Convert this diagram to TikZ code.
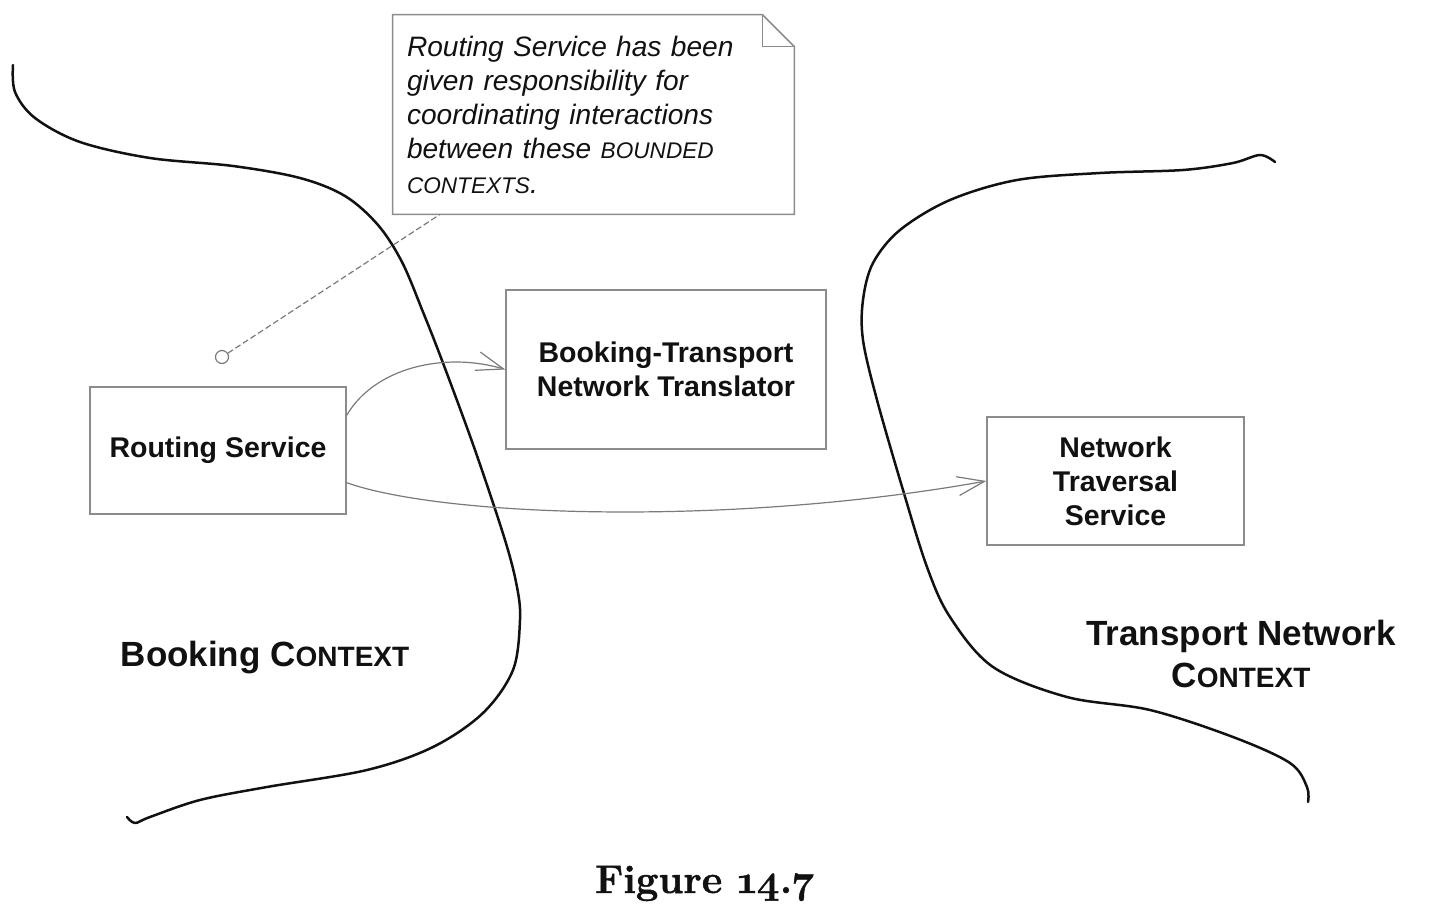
\documentclass[tikz,border=0pt]{standalone}
\usepackage{fontspec}
\newfontfamily\arial{Liberation Sans}
\newfontfamily\capfont[Numbers=OldStyle,BoldFeatures={FakeBold=1.2}]{Latin Modern Roman}
\usetikzlibrary{arrows.meta}
\definecolor{boxgray}{HTML}{8C8C8C}
\definecolor{linegray}{HTML}{7A7A7A}
\definecolor{ink}{HTML}{111111}
\newcommand\smcnote[1]{{\fontsize{11.3}{17.1}\selectfont #1}}
\newcommand\smcctx[1]{{\fontsize{14}{21}\selectfont #1}}
\begin{document}
\begin{tikzpicture}[x=0.5pt,y=-0.5pt,
  compbox/.style={draw=boxgray, line width=0.75pt, inner sep=0pt, align=center,
    font=\arial\bfseries\fontsize{14.25}{17}\selectfont, text=ink},
  conn/.style={draw=linegray, line width=0.6pt, -{Straight Barb[length=13.5pt,width=9.5pt]}},
  ctx/.style={line width=1.25pt, line cap=round, line join=round, draw=ink},
  ctxlabel/.style={font=\arial\bfseries\fontsize{17.5}{21}\selectfont, text=ink, inner sep=0pt, align=center},
  notebox/.style={draw=boxgray, line width=0.75pt, line join=miter},
  notelink/.style={draw=linegray, line width=0.6pt, dash pattern=on 3pt off 1.5pt}]
\path[use as bounding box] (0,0) rectangle (1432,910);

% context boundaries
\draw[ctx] plot[smooth, tension=0.55] coordinates {(13,65) (15,92) (35,118) (80,142) (150,158) (233,166) (300,178) (345,196) (378,225) (402,262) (423,312) (443,363) (475,450) (505,540) (517,587) (520,620) (513,670) (483,713) (433,747) (367,770) (267,787) (200,800) (150,817) (135,823) (127,817)};
\draw[ctx] plot[smooth, tension=0.55] coordinates {(1275,162) (1260,155) (1233,163) (1183,170) (1100,173) (1017,180) (950,200) (900,230) (873,263) (863,300) (863,340) (877,400) (903,490) (927,567) (950,617) (993,667) (1067,697) (1150,710) (1233,737) (1290,763) (1307,787) (1308,802)};

% note
\node[inner xsep=7pt, inner ysep=0pt, minimum width=200.5pt, minimum height=99.5pt,
      text width=186.5pt, align=left, font=\arial\itshape\fontsize{14.05}{17.125}\selectfont, text=ink]
  (note) at (593.5,114.5) {Routing Service has been\\ given responsibility for\\ coordinating interactions\\ between these \smcnote{BOUNDED}\\ \smcnote{CONTEXTS}.};
\coordinate (foldA) at ([xshift=-16pt]note.north east);
\coordinate (foldB) at ([yshift=-16pt]note.north east);
\draw[notebox] (note.south west) -- (note.south east) -- (foldB) -- (foldA) -- (note.north west) -- cycle;
\draw[notebox] (foldA) |- (foldB);

% components
\node[compbox, minimum width=128pt, minimum height=63.5pt] (rs) at (218,450.5) {Routing Service};
\node[compbox, minimum width=160pt, minimum height=79.5pt] (bt) at (666,369.5) {Booking-Transport\\Network Translator};
\node[compbox, minimum width=128.5pt, minimum height=64pt] (nts) at (1115.5,481) {Network\\Traversal\\Service};

% note anchor circle and link
\node[circle, draw=linegray, line width=0.6pt, minimum size=6.5pt, inner sep=0pt] (dot) at (222,357) {};
\coordinate (notefoot) at ([xshift=-76.75pt]note.south);
\draw[notelink] (dot) -- (notefoot);

% connectors
\draw[conn] ([yshift=-14.5pt]rs.north east) .. controls +(28,-48) and +(-60,-18) .. (bt.west);
\draw[conn] ([yshift=16pt]rs.south east) .. controls +(100,35) and +(-250,45) .. (nts.west);

% context labels
\node[ctxlabel, anchor=base] (bc) at (265,666) {Booking C\smcctx{ONTEXT}};
\node[ctxlabel, anchor=base] (tn1) at (1241,645) {Transport Network};
\node[ctxlabel, anchor=base] (tn2) at (1241,687) {C\smcctx{ONTEXT}};

% caption
\node[anchor=base, inner sep=0pt, font=\capfont\bfseries\fontsize{20}{24}\selectfont, text=ink] (cap) at (705,893)
  {Figure 14.7};
\end{tikzpicture}
\end{document}
